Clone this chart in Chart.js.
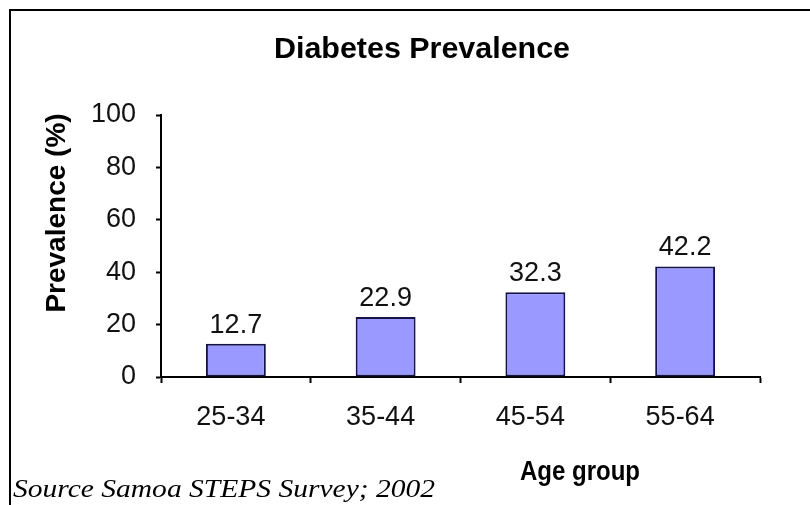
<!DOCTYPE html>
<html>
<head>
<meta charset="utf-8">
<script src="https://cdn.jsdelivr.net/npm/chart.js@4/dist/chart.umd.min.js"></script>
<style>
  html, body { margin: 0; padding: 0; background: #fff; }
  #wrap { width: 810px; height: 505px; position: relative; }
</style>
</head>
<body>
<div id="wrap"><canvas id="c" width="810" height="505"></canvas></div>
<script>
// Diabetes prevalence by age group, Samoa STEPS Survey 2002
const ageGroups = ['25-34', '35-44', '45-54', '55-64'];
const prevalence = [12.7, 22.9, 32.3, 42.2];
const yTickValues = [0, 20, 40, 60, 80, 100];

const chartTitle = 'Diabetes Prevalence';
const yAxisTitle = 'Prevalence (%)';
const xAxisTitle = 'Age group';
const sourceNote = 'Source Samoa STEPS Survey; 2002';

const FONT = '"Liberation Sans", Arial, sans-serif';

// draw text squeezed horizontally so it spans the given width
function fitText(ctx, text, x, y, width) {
  const w = ctx.measureText(text).width;
  ctx.save();
  ctx.translate(x, y);
  ctx.scale(width / w, 1);
  ctx.fillText(text, 0, 0);
  ctx.restore();
}

// Frame, titles, source note and the value printed above each bar
const decorations = {
  id: 'decorations',
  beforeDraw(chart) {
    const ctx = chart.ctx;
    ctx.save();
    ctx.fillStyle = '#fff';
    ctx.fillRect(0, 0, chart.width, chart.height);
    ctx.restore();
  },
  afterDraw(chart) {
    const ctx = chart.ctx;
    ctx.save();

    // outer frame (runs off the right and bottom edges)
    ctx.strokeStyle = '#000';
    ctx.lineWidth = 2;
    ctx.beginPath();
    ctx.moveTo(10, chart.height + 5);
    ctx.lineTo(10, 10);
    ctx.lineTo(chart.width + 5, 10);
    ctx.stroke();

    // chart title
    ctx.fillStyle = '#000';
    ctx.font = 'bold 30px ' + FONT;
    ctx.textAlign = 'left';
    ctx.textBaseline = 'alphabetic';
    fitText(ctx, chartTitle, 274, 58, 296);

    // y axis title, rotated
    ctx.font = 'bold 28px ' + FONT;
    ctx.save();
    ctx.translate(65, 213);
    ctx.rotate(-Math.PI / 2);
    ctx.textAlign = 'center';
    ctx.fillText(yAxisTitle, 0, 0);
    ctx.restore();

    // x axis title
    ctx.font = 'bold 28px ' + FONT;
    fitText(ctx, xAxisTitle, 520, 480, 120);

    // source note, italic serif squeezed to its span
    ctx.font = 'italic 26px "Liberation Serif", "Times New Roman", serif';
    fitText(ctx, sourceNote, 13, 497, 422);

    // value labels above the bars
    ctx.font = '27px ' + FONT;
    ctx.textAlign = 'center';
    ctx.fillStyle = '#111';
    const meta = chart.getDatasetMeta(0);
    meta.data.forEach((bar, i) => {
      ctx.fillText(String(prevalence[i]), bar.x, bar.y - 11);
    });

    ctx.restore();
  }
};

new Chart(document.getElementById('c'), {
  type: 'bar',
  data: {
    labels: ageGroups,
    datasets: [{
      data: prevalence,
      backgroundColor: '#9999ff',
      borderColor: '#14144a',
      borderWidth: 2,
      borderSkipped: false,
      barPercentage: 0.4,
      categoryPercentage: 1.0
    }]
  },
  options: {
    responsive: false,
    animation: false,
    devicePixelRatio: 1,
    layout: { padding: { top: 115, right: 50, bottom: 0, left: 0 } },
    plugins: {
      legend: { display: false },
      title: { display: false },
      tooltip: { enabled: false }
    },
    scales: {
      x: {
        offset: true,
        grid: {
          offset: true,
          drawOnChartArea: false,
          drawTicks: true,
          tickLength: 6,
          tickWidth: 2,
          color: '#000'
        },
        border: { display: true, color: '#000', width: 2 },
        ticks: {
          color: '#111',
          font: { family: FONT, size: 27 },
          padding: 18,
          labelOffset: -5,
          maxRotation: 0
        },
        afterFit(scale) { scale.height = 128; }
      },
      y: {
        min: 0,
        max: 100,
        afterBuildTicks(scale) {
          scale.ticks = yTickValues.map(v => ({ value: v }));
        },
        grid: {
          drawOnChartArea: false,
          drawTicks: true,
          tickLength: 5,
          tickWidth: 2,
          color: '#000'
        },
        border: { display: true, color: '#000', width: 2 },
        ticks: {
          color: '#111',
          font: { family: FONT, size: 27 },
          padding: 20
        },
        afterFit(scale) { scale.width = 161; }
      }
    }
  },
  plugins: [decorations]
});
</script>
</body>
</html>
